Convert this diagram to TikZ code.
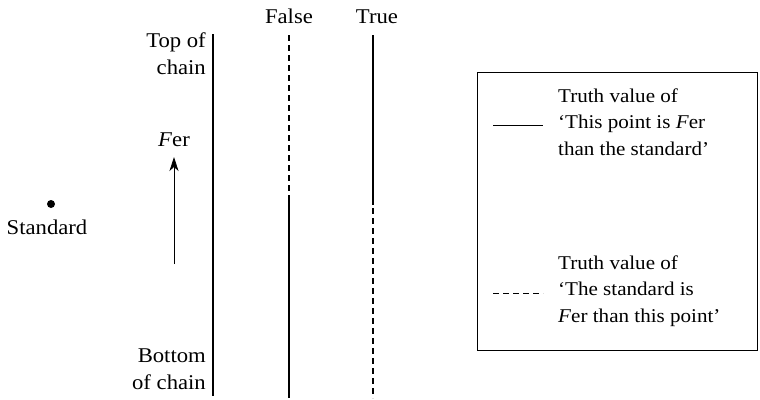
\documentclass[tikz,border=0pt]{standalone}
\usepackage{fontspec}
\setmainfont{Liberation Serif}[FakeStretch=1.08]
\usetikzlibrary{arrows.meta}
\begin{document}
\begin{tikzpicture}[x=1pt,y=-1pt,
  lbl/.style={inner sep=0pt,font=\fontsize{21}{27}\selectfont},
  keylbl/.style={inner sep=0pt,font=\fontsize{19.5}{26.5}\selectfont,anchor=base west,align=left},
  rlbl/.style={lbl,anchor=base east,align=right},
  clbl/.style={lbl,anchor=base},
  rule/.style={line width=1.1pt},
  dashrule/.style={line width=1.1pt,dash pattern=on 6pt off 4pt},
  legendbox/.style={draw,line width=0.8pt}]
\useasboundingbox (0,0) rectangle (760,399);

% column heads
\node[clbl] (false) at (289,23) {False};
\node[clbl] (true) at (377,23) {True};

% end points of the chain and the two truth-value columns
\coordinate (chaintop) at (213,34);
\coordinate (chainbot) at (213,396);
\coordinate (ftop) at (289,35);
\coordinate (fmid) at (289,200);
\coordinate (fbot) at (289,398);
\coordinate (ttop) at (373,35);
\coordinate (tmidA) at (373,205);
\coordinate (tmidB) at (373,208);
\coordinate (tbot) at (373,398);

\draw[rule] (chaintop) -- (chainbot);
\draw[dashrule] (ftop) -- (fmid);
\draw[rule] (fmid) -- (fbot);
\draw[rule] (ttop) -- (tmidA);
\draw[dashrule] (tmidB) -- (tbot);

% chain labels (base anchor sits on the last line)
\node[rlbl] (top) at (206,74) {Top of\\chain};
\node[rlbl] (bottom) at (206,389) {Bottom\\of chain};

% direction of increasing F
\node[clbl] (fer) at (174,146) {\textit{F}er};
\coordinate (arrbase) at (174,264);
\coordinate (arrtip) at (174,157);
\draw[line width=0.8pt,-{Stealth[length=14pt,width=9pt,inset=4pt]}] (arrbase) -- (arrtip);

% the standard
\node[circle,fill,inner sep=0pt,minimum size=8pt] (dot) at (51,204) {};
\node[clbl] (standard) at (47,234) {Standard};

% legend
\node[legendbox,minimum width=280pt,minimum height=278pt,anchor=north west] (legend) at (477,72) {};
\coordinate (l1a) at (493,125);
\coordinate (l1b) at (543,125);
\coordinate (l2a) at (493,293);
\coordinate (l2b) at (543,293);
\draw[line width=1pt] (l1a) -- (l1b);
\draw[line width=1pt,dash pattern=on 6pt off 4pt] (l2a) -- (l2b);
\node[keylbl] (key1) at (558,155) {Truth value of\\`This point is \textit{F}er\\than the standard'};
\node[keylbl] (key2) at (558,322) {Truth value of\\`The standard is\\\textit{F}er than this point'};
\end{tikzpicture}
\end{document}
